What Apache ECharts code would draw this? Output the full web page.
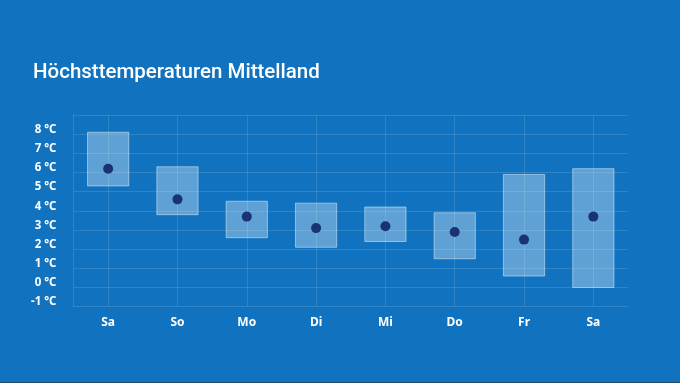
<!DOCTYPE html>
<html>
<head>
<meta charset="utf-8">
<script src="https://cdn.jsdelivr.net/npm/echarts@6/dist/echarts.min.js"></script>
<style>
html,body{margin:0;padding:0;background:#1173bf;}
#c{width:680px;height:383px;}
</style>
</head>
<body>
<div id="c"></div>
<script>
const categories = ['Sa','So','Mo','Di','Mi','Do','Fr','Sa'];
const lowValues  = [5.3, 3.8, 2.6, 2.1, 2.4, 1.5, 0.6, 0.0];
const highValues = [8.1, 6.3, 4.5, 4.4, 4.2, 3.9, 5.9, 6.2];
const meanValues = [6.2, 4.6, 3.7, 3.1, 3.2, 2.9, 2.5, 3.7];
const yTicks = [-1, 0, 1, 2, 3, 4, 5, 6, 7, 8, 9];

const chart = echarts.init(document.getElementById('c'), null, {renderer:'canvas'});
const rangeData = categories.map((c, i) => [i, lowValues[i], highValues[i]]);

chart.setOption({
  backgroundColor: '#1173bf',
  animation: false,
  title: {
    text: 'Höchsttemperaturen Mittelland',
    left: 28, top: 57,
    textStyle: {color:'#ffffff', fontFamily:'Roboto', fontWeight:500, fontSize:20.5}
  },
  grid: {left: 73.5, right: 52, top: 115, bottom: 76.3, containLabel: false},
  xAxis: {
    type: 'category',
    data: categories,
    boundaryGap: true,
    axisLine: {show: false},
    axisTick: {show: false},
    axisLabel: {color:'#ffffff', fontFamily:'Noto Sans', fontWeight:'bold', fontSize:12, margin:10},
    splitLine: {show: true, alignWithLabel: true, lineStyle: {color:'rgba(255,255,255,0.12)', width:1}}
  },
  yAxis: {
    type: 'value',
    min: yTicks[0], max: yTicks[yTicks.length-1], interval: 1,
    axisLine: {show: true, lineStyle: {color:'rgba(255,255,255,0.12)'}},
    axisTick: {show: false},
    axisLabel: {
      color:'#ffffff', fontFamily:'Noto Sans', fontWeight:'bold', fontSize:11.5, margin:17,
      verticalAlign:'bottom', lineHeight:9,
      showMaxLabel:false,
      formatter: v => v + ' °C'
    },
    splitLine: {show: true, lineStyle: {color:'rgba(255,255,255,0.12)', width:1}}
  },
  series: [
    {
      type: 'custom',
      data: rangeData,
      encode: {x: 0, y: [1, 2]},
      renderItem: function (params, api) {
        const i = api.value(0);
        const lo = api.coord([i, api.value(1)]);
        const hi = api.coord([i, api.value(2)]);
        const w = api.size([1, 0])[0] * 0.595;
        return {
          type: 'rect',
          shape: {x: lo[0] - w/2, y: hi[1], width: w, height: lo[1] - hi[1]},
          style: {fill:'rgba(255,255,255,0.33)', stroke:'rgba(255,255,255,0.45)', lineWidth:1}
        };
      },
      z: 2
    },
    {
      type: 'scatter',
      data: meanValues,
      symbol: 'circle',
      symbolSize: 10,
      itemStyle: {color:'#07175a'},
      z: 3
    }
  ],
  graphic: [{
    type:'rect', left:0, bottom:0, shape:{width:680, height:1}, style:{fill:'#2b4a66'}
  }]
});
</script>
</body>
</html>
